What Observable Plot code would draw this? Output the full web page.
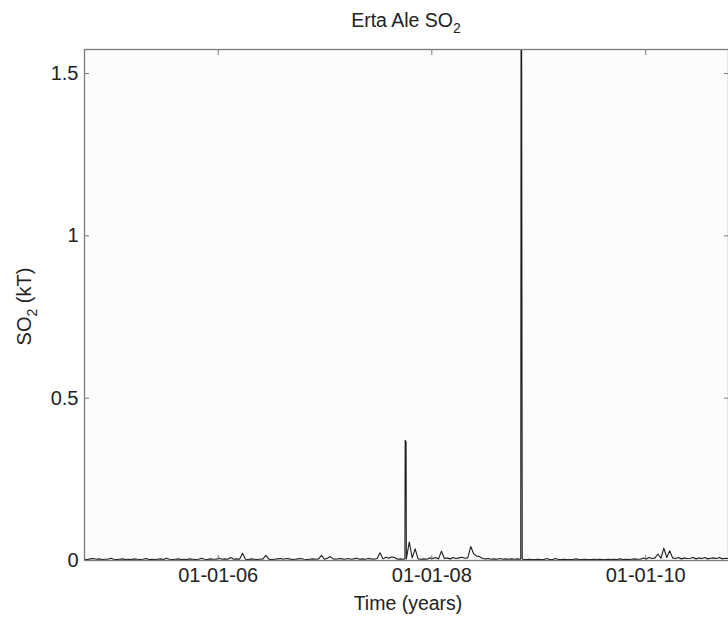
<!DOCTYPE html>
<html><head><meta charset="utf-8">
<script src="https://cdn.jsdelivr.net/npm/d3@7"></script>
<script src="https://cdn.jsdelivr.net/npm/@observablehq/plot@0.6"></script>
<style>
body{margin:0;background:#fff;}
#chart svg{display:block;}
</style></head><body>
<div id="chart"></div>
<script>
// ---- data ----
const titleText = "Erta Ale SO";
const yLabelText = "SO";
const xLabelText = "Time (years)";
const startDate = "2004-10-01";   // first sample
const stepDays = 10;              // sampling of the background series
const xDomain = ["2004-10-01", "2010-10-11"];
const yDomain = [0, 1.574];
const xTicks = ["2006-01-01", "2008-01-01", "2010-01-01"];
const yTicks = [0, 0.5, 1, 1.5];
const baseline = [
  0.004,0.003,0.005,0.006,0.004,0.005,0.003,0.004,0.004,0.007,
  0.004,0.003,0.004,0.005,0.003,0.004,0.003,0.005,0.004,0.003,
  0.004,0.006,0.003,0.004,0.003,0.004,0.005,0.003,0.007,0.004,
  0.003,0.004,0.005,0.003,0.004,0.003,0.005,0.004,0.003,0.004,
  0.007,0.004,0.003,0.005,0.004,0.004,0.007,0.004,0.005,0.004,
  0.009,0.004,0.005,0.004,0.022,0.004,0.003,0.005,0.004,0.003,
  0.004,0.005,0.016,0.004,0.003,0.004,0.005,0.006,0.004,0.006,
  0.005,0.003,0.004,0.005,0.006,0.004,0.003,0.004,0.005,0.004,
  0.005,0.016,0.004,0.007,0.012,0.005,0.004,0.006,0.005,0.004,
  0.006,0.004,0.005,0.007,0.004,0.005,0.004,0.006,0.005,0.004,
  0.006,0.024,0.005,0.010,0.007,0.011,0.009,0.004,0.005,0.004,
  0.006,0.057,0.008,0.036,0.005,0.004,0.005,0.004,0.008,0.006,
  0.009,0.005,0.029,0.006,0.008,0.005,0.009,0.006,0.008,0.010,
  0.007,0.008,0.043,0.021,0.014,0.012,0.006,0.005,0.006,0.004,
  0.005,0.004,0.006,0.004,0.005,0.004,0.005,0.004,0.005,0.004,
  0.003,0.003,0.004,0.003,0.003,0.004,0.003,0.003,0.006,0.003,
  0.003,0.006,0.003,0.003,0.004,0.003,0.003,0.003,0.005,0.003,
  0.003,0.004,0.003,0.003,0.004,0.003,0.004,0.003,0.003,0.004,
  0.003,0.004,0.003,0.005,0.003,0.004,0.003,0.004,0.005,0.004,
  0.004,0.008,0.005,0.009,0.006,0.008,0.020,0.007,0.038,0.009,
  0.030,0.008,0.006,0.009,0.005,0.008,0.006,0.007,0.009,0.005,
  0.008,0.006,0.009,0.005,0.007,0.008,0.006,0.009,0.005,0.007,
  0.006,0.008
];
const peakDates  = ["2007-10-01","2007-10-02","2007-10-05","2007-10-06",
                    "2008-10-31","2008-11-01","2008-11-03","2008-11-05"];
const peakValues = [0.005, 0.37, 0.365, 0.005,
                    0.005, 1.574, 1.574, 0.005];

// ---- build table ----
const data = baseline.map((v, i) => ({date: d3.utcDay.offset(new Date(startDate), i * stepDays), value: v}))
  .concat(peakDates.map((d, i) => ({date: new Date(d), value: peakValues[i]})))
  .sort((a, b) => a.date - b.date);

const W = 728, H = 619, ML = 84, MR = 0, MT = 49, MB = 59;
const fmt = d3.utcFormat("%m-%d-%y");
const axisColor = "#7a7a7a";
const FONT = "'Liberation Sans', Arial, sans-serif";

const chart = Plot.plot({
  width: W, height: H,
  marginLeft: ML, marginRight: MR, marginTop: MT, marginBottom: MB,
  style: {fontFamily: FONT, fontSize: "20px", color: "#222", background: "#fff"},
  x: {type: "utc", domain: xDomain.map(d => new Date(d))},
  y: {domain: yDomain},
  marks: [
    Plot.frame({fill: "#fcfcfc", stroke: "none"}),
    Plot.line(data, {x: "date", y: "value", stroke: "#1c1c1c", strokeWidth: 1.1, clip: true}),
    Plot.axisX(xTicks.map(d => new Date(d)), {anchor: "bottom", tickFormat: fmt, tickSize: -5, tickPadding: 12, label: null, stroke: axisColor, fill: "#222"}),
    Plot.axisX(xTicks.map(d => new Date(d)), {anchor: "top", tickFormat: () => "", tickSize: -5, label: null, stroke: axisColor}),
    Plot.axisY(yTicks, {anchor: "left", tickFormat: d => String(d), tickSize: -5, tickPadding: 11, label: null, stroke: axisColor, fill: "#222"}),
    Plot.axisY(yTicks, {anchor: "right", tickFormat: () => "", tickSize: -5, label: null, stroke: axisColor}),
    Plot.frame({stroke: axisColor, strokeWidth: 1.3})
  ]
});
document.getElementById("chart").appendChild(chart);

// ---- titles with real subscripts ----
const svg = d3.select(chart);
const plotCx = ML + (W - ML - MR) / 2;
const t = svg.append("text").attr("x", plotCx).attr("y", 27).attr("text-anchor", "middle")
  .attr("font-family", FONT).attr("font-size", 19.5).attr("fill", "#222");
t.append("tspan").text(titleText);
t.append("tspan").attr("dy", 6).attr("font-size", 14).text("2");

const yl = svg.append("text").attr("transform", `translate(31,${(MT + H - MB) / 2 + 2}) rotate(-90)`)
  .attr("text-anchor", "middle")
  .attr("font-family", FONT).attr("font-size", 20).attr("fill", "#222");
yl.append("tspan").text(yLabelText);
yl.append("tspan").attr("dy", 6).attr("font-size", 14).text("2");
yl.append("tspan").attr("dy", -6).text(" (kT)");

svg.append("text").attr("x", plotCx + 2).attr("y", 610).attr("text-anchor", "middle")
  .attr("font-family", FONT).attr("font-size", 19.5).attr("fill", "#222")
  .text(xLabelText);
</script></body></html>
